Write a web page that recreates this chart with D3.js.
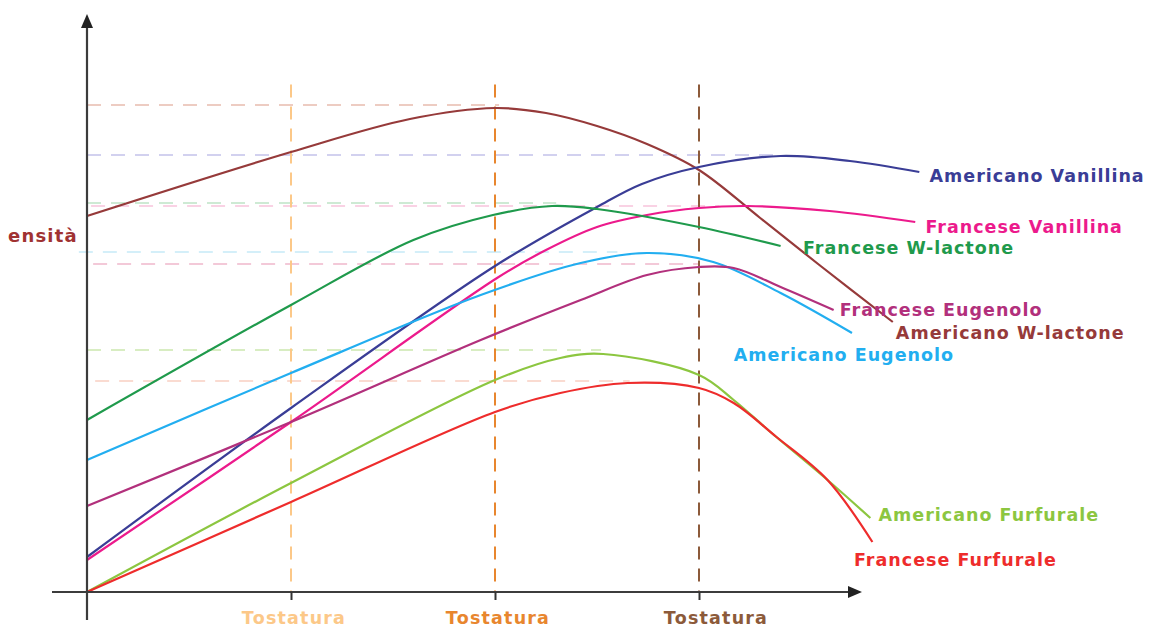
<!DOCTYPE html>
<html><head><meta charset="utf-8">
<script src="https://cdn.jsdelivr.net/npm/d3@7"></script>
<style>body{margin:0;background:#fff}svg{display:block}</style>
</head><body>
<svg id="c" width="1160" height="627"></svg>
<script>
// ---- data ----
const seriesNames = ["Americano W-lactone","Americano Vanillina","Francese Vanillina","Francese W-lactone","Americano Eugenolo","Francese Eugenolo","Americano Furfurale","Francese Furfurale"];
const seriesColors = ["#963a3a","#3a3d96","#ec1a8c","#1f9a4c","#22aef0","#b2307c","#8cc640","#ee2c2c"];
const amWlactone = [[0,75.2],[1,88],[1.583,94.6],[2,96.8],[2.25,95.8],[2.5,93.2],[2.745,89.6],[3,84.4],[3.3,74.8],[3.59,65.4],[3.95,54]];
const amVanillina = [[0,7],[1,36.8],[2,65.2],[2.5,77],[2.72,81.6],[3,85],[3.4,87.2],[3.74,86.2],[4.08,84]];
const frVanillina = [[0,6.4],[1,34],[2.01,62.8],[2.25,68.4],[2.5,73],[2.745,75.4],[3,76.8],[3.24,77.2],[3.64,76.2],[4.06,74]];
const frWlactone = [[0,34.4],[1,57.4],[1.6,70.4],[1.99,75.4],[2.28,77.2],[2.5,76.6],[3,73],[3.4,69.2]];
const amEugenolo = [[0,26.4],[1,43.8],[1.93,59.4],[2.42,65.8],[2.745,67.8],[3.07,66],[3.4,59.8],[3.75,51.8]];
const frEugenolo = [[0,17.2],[1,34],[1.93,50.4],[2.42,58.4],[2.745,63.4],[3,65],[3.17,64.8],[3.4,61],[3.66,56.4]];
const amFurfurale = [[0,0],[1,21.8],[2,42.4],[2.32,46.8],[2.53,47.6],[3,43.4],[3.17,38.4],[3.35,32],[3.63,22.4],[3.84,14.8]];
const frFurfurale = [[0,0],[1,18],[2,36],[2.32,39.8],[2.65,41.8],[3,40.8],[3.17,37.8],[3.38,31],[3.63,22.4],[3.85,10]];
const seriesValues = [amWlactone,amVanillina,frVanillina,frWlactone,amEugenolo,frEugenolo,amFurfurale,frFurfurale];
// label anchor positions in data units [x, y]
const labelPos = [[3.965,51.8],[4.13,83.2],[4.11,73.0],[3.51,68.8],[3.17,47.4],[3.69,56.4],[3.88,15.4],[3.76,6.4]];
const tickValues = [1,2,3];
const tickLabels = ["Tostatura","Tostatura","Tostatura"];
const tickColors = ["#fcc888","#e8862e","#8c5a3a"];
const refLevels = [97.4,87.4,77.8,77.2,68,65.6,48.4,42.2];
const refEnds = [2.02,3.4,2.3,3.1,2.6,3.0,2.52,2.66];
const refStarts = [0,0,0,0.02,-0.04,0.03,0,0.04];
const refColors = ["#e8bcae","#c4c2ea","#bfe3c6","#f7c4dc","#c6eaf8","#efb8cc","#cce8ae","#f9cfc2"];
const yLabel = "ensità";

// ---- scales ----
const svg = d3.select("#c");
const x = d3.scaleLinear().domain([0,4]).range([87,903]);
const y = d3.scaleLinear().domain([0,100]).range([592,92]);
const font = "DejaVu Sans, sans-serif";

// horizontal reference dashes
svg.append("g").selectAll("line").data(refLevels).join("line")
  .attr("x1",(d,i)=>x(refStarts[i])).attr("x2",(d,i)=>x(refEnds[i]))
  .attr("y1",d=>y(d)).attr("y2",d=>y(d))
  .attr("stroke",(d,i)=>refColors[i]).attr("stroke-width",1.6)
  .attr("stroke-dasharray","14,10");

// vertical dashed lines
svg.append("g").selectAll("line").data(tickValues).join("line")
  .attr("x1",d=>x(d)).attr("x2",d=>x(d))
  .attr("y1",y(101.5)).attr("y2",y(0))
  .attr("stroke",(d,i)=>tickColors[i]).attr("stroke-width",2)
  .attr("stroke-dasharray","13,9");

// curves
const line = d3.line().x(d=>x(d[0])).y(d=>y(d[1])).curve(d3.curveCatmullRom.alpha(0.5));
svg.append("g").selectAll("path").data(seriesValues).join("path")
  .attr("d",line).attr("fill","none")
  .attr("stroke",(d,i)=>seriesColors[i]).attr("stroke-width",2.2);

// axes
const axisColor = "#3c3c3c";
svg.append("line").attr("x1",52).attr("x2",852).attr("y1",y(0)).attr("y2",y(0))
  .attr("stroke",axisColor).attr("stroke-width",2.2);
svg.append("path").attr("d",`M862,${y(0)} L848,${y(0)-6} L848,${y(0)+6} Z`).attr("fill","#222");
svg.append("line").attr("x1",x(0)).attr("x2",x(0)).attr("y1",24).attr("y2",620)
  .attr("stroke",axisColor).attr("stroke-width",2.2);
svg.append("path").attr("d",`M${x(0)},14 L${x(0)-6},28 L${x(0)+6},28 Z`).attr("fill","#222");

const xAxis = d3.axisBottom(x).tickValues(tickValues).tickSize(8).tickFormat("");
const gx = svg.append("g").attr("transform",`translate(0,${y(0)})`).call(xAxis);
gx.select(".domain").remove();
gx.selectAll(".tick line").attr("stroke","#333").attr("stroke-width",2);

svg.append("g").selectAll("text").data(tickValues).join("text")
  .attr("x",(d,i)=>x(d)+(i===2?17:3)).attr("y",624)
  .attr("text-anchor","middle")
  .attr("font-family",font).attr("font-weight","bold")
  .attr("font-size",17.5).attr("letter-spacing",1.2).attr("fill",(d,i)=>tickColors[i])
  .text((d,i)=>tickLabels[i]);

// series labels
svg.append("g").selectAll("text").data(seriesNames).join("text")
  .attr("x",(d,i)=>x(labelPos[i][0])).attr("y",(d,i)=>y(labelPos[i][1]))
  .attr("dy","0.35em")
  .attr("font-family",font).attr("font-weight","bold")
  .attr("font-size",17.5).attr("letter-spacing",1).attr("fill",(d,i)=>seriesColors[i])
  .text(d=>d);

svg.append("text").attr("x",8).attr("y",236).attr("dy","0.35em")
  .attr("font-family",font).attr("font-weight","bold")
  .attr("font-size",18).attr("letter-spacing",1.2).attr("fill","#a03232").text(yLabel);
</script>
</body></html>
